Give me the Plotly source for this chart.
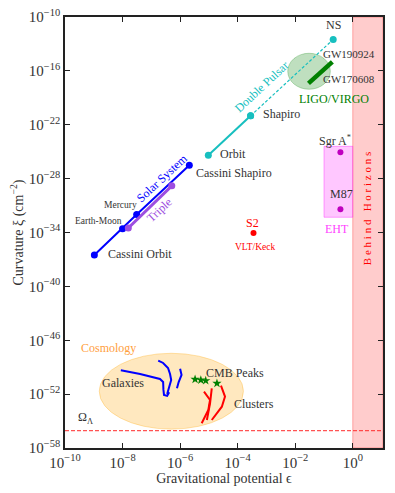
import plotly.graph_objects as go

# values are log10(epsilon), log10(curvature)
solar_eps = [-8.98, -8.0, -7.51, -5.68]
solar_xi = [-36.5, -33.57, -32.0, -26.5]

triple_eps = [-7.80, -6.29]
triple_xi = [-33.5, -28.8]

pulsar_eps = [-5.02, -3.55, -0.68]   # Orbit, Shapiro, NS
pulsar_xi = [-25.4, -21.0, -12.5]

gw_eps = [-1.54, -0.71]
gw_xi = [-17.4, -15.0]

eht_eps = [-0.43, -0.43]   # Sgr A*, M87
eht_xi = [-25.07, -31.4]

s2_eps = [-3.45]
s2_xi = [-34.05]

cmb_eps = [-5.48, -5.28, -5.11, -4.72]
cmb_xi = [-50.35, -50.43, -50.5, -50.8]

galaxy_eps = [
    [-8.06, -7.39, -6.70, -6.59, -6.58, -6.56, -6.45, -6.38],
    [-6.76, -6.59, -6.42, -6.35, -6.31, -6.38, -6.45],
    [-6.00, -5.95, -6.05, -6.11],
]
galaxy_xi = [
    [-49.34, -49.76, -50.31, -50.65, -51.5, -52.09, -52.2, -51.8],
    [-48.27, -48.53, -49.09, -49.76, -50.42, -51.31, -51.98],
    [-49.17, -49.87, -50.65, -51.35],
]

cluster_eps = [
    [-5.17, -4.96, -5.02, -5.25],
    [-4.90, -4.96, -5.07],
    [-4.58, -4.44, -4.55, -4.90],
]
cluster_xi = [
    [-51.73, -52.65, -53.76, -55.24],
    [-51.35, -53.02, -54.88],
    [-51.06, -52.28, -53.40, -54.88],
]

omega_lambda = -56.07

x_ticks = [-10, -8, -6, -4, -2, 0]
y_ticks = [-58, -52, -46, -40, -34, -28, -22, -16, -10]

FONT = "Liberation Serif"
BLUE = "#0000ff"
CYAN = "#17bfbf"
PURPLE = "#9d4ee0"
GREEN = "#008000"
MAG = "#bf00bf"
RED = "#ff0000"


def p(v):
    return [10 ** a for a in v]


fig = go.Figure()


def line(xs, ys, color, width, dash="solid", marker=True, msize=7):
    fig.add_trace(go.Scatter(
        x=p(xs), y=p(ys), mode="lines+markers" if marker else "lines",
        line=dict(color=color, width=width, dash=dash),
        marker=dict(color=color, size=msize), showlegend=False,
    ))


line(solar_eps, solar_xi, BLUE, 2)
line(triple_eps, triple_xi, PURPLE, 3)
line(pulsar_eps[:2], pulsar_xi[:2], CYAN, 2)
line(pulsar_eps[1:], pulsar_xi[1:], CYAN, 1.2, dash="3px,2px")
line(gw_eps, gw_xi, GREEN, 4.5, marker=False)
fig.add_trace(go.Scatter(x=p(eht_eps), y=p(eht_xi), mode="markers",
                         marker=dict(color=MAG, size=6), showlegend=False))
fig.add_trace(go.Scatter(x=p(s2_eps), y=p(s2_xi), mode="markers",
                         marker=dict(color=RED, size=6), showlegend=False))
fig.add_trace(go.Scatter(x=p(cmb_eps), y=p(cmb_xi), mode="markers",
                         marker=dict(color=GREEN, size=7, symbol="star"),
                         showlegend=False))
for xs, ys in zip(galaxy_eps, galaxy_xi):
    line(xs, ys, BLUE, 2, marker=False)
for xs, ys in zip(cluster_eps, cluster_xi):
    line(xs, ys, RED, 2, marker=False)

# regions
fig.add_shape(type="rect", xref="x", yref="paper", x0=1, x1=10 ** 1.05,
              y0=0, y1=1, fillcolor="rgba(255,0,0,0.2)",
              line=dict(color="rgba(255,0,0,0.3)", width=1), layer="below")
fig.add_shape(type="rect", x0=0.1, x1=1, y0=10 ** -32.3, y1=10 ** -24.4,
              fillcolor="rgba(255,0,255,0.22)",
              line=dict(color="rgba(255,0,255,0.35)", width=1), layer="below")
fig.add_shape(type="circle", x0=10 ** -2.26, x1=10 ** -0.78,
              y0=10 ** -18.05, y1=10 ** -14.04,
              fillcolor="rgba(0,128,0,0.25)",
              line=dict(color="rgba(0,128,0,0.25)", width=1), layer="below")
fig.add_shape(type="circle", x0=10 ** -8.81, x1=10 ** -3.80,
              y0=10 ** -55.9, y1=10 ** -47.45,
              fillcolor="rgba(255,165,0,0.25)",
              line=dict(color="rgba(255,165,0,0.3)", width=1), layer="below")
fig.add_shape(type="line", xref="paper", x0=0, x1=1,
              y0=10 ** omega_lambda, y1=10 ** omega_lambda,
              line=dict(color="rgba(255,40,40,0.8)", width=1.2, dash="4px,2px"))

DARK = "#333333"
labels = [
    # text, x, y, color, size, anchor, angle
    ("NS", -0.68, -10.89, DARK, 12, "center", 0),
    ("GW190924", -1.1, -14.15, DARK, 11, "left", 0),
    ("GW170608", -1.1, -16.90, DARK, 11, "left", 0),
    ("LIGO/VIRGO", -0.67, -19.13, GREEN, 12, "center", 0),
    ("Double Pulsar", -3.17, -17.85, CYAN, 12, "center", -43),
    ("Shapiro", -3.18, -20.84, DARK, 12, "left", 0),
    ("Orbit", -4.67, -25.26, DARK, 12, "left", 0),
    ("Cassini Shapiro", -5.51, -27.41, DARK, 12, "left", 0),
    ("Solar System", -6.62, -27.95, BLUE, 12, "center", -43),
    ("Triple", -6.72, -31.5, PURPLE, 12, "center", -43),
    ("Mercury", -8.06, -30.94, DARK, 9.5, "center", 0),
    ("Earth-Moon", -8.82, -32.68, DARK, 9.5, "center", 0),
    ("Cassini Orbit", -8.57, -36.39, DARK, 12, "left", 0),
    ("S2", -3.47, -32.91, RED, 12, "center", 0),
    ("VLT/Keck", -3.37, -35.65, RED, 9.5, "center", 0),
    ("Sgr A<sup>*</sup>", -0.62, -23.70, DARK, 12, "center", 0),
    ("M87", -0.40, -29.71, DARK, 12, "center", 0),
    ("EHT", -0.55, -33.61, "#ff44ff", 12, "center", 0),
    ("B e h i n d   H o r i z o n s", 0.50, -31.38, RED, 11, "center", -90),
    ("Cosmology", -8.50, -46.86, "#ffa040", 12, "center", 0),
    ("Galaxies", -7.98, -50.79, DARK, 12, "center", 0),
    ("CMB Peaks", -4.09, -49.68, DARK, 12, "center", 0),
    ("Clusters", -4.20, -53.10, DARK, 12, "left", 0),
    ("Ω<sub>Λ</sub>", -9.30, -54.65, DARK, 12, "center", 0),
]
for text, x, y, color, size, anchor, angle in labels:
    fig.add_annotation(x=x, y=y, text=text, showarrow=False, xanchor=anchor,
                       yanchor="middle", textangle=angle,
                       font=dict(family=FONT, size=size, color=color))

fig.update_xaxes(
    type="log", range=[-10, 1.05], automargin=False,
    ticklabeloverflow="allow",
    tickvals=[10 ** t for t in x_ticks],
    ticktext=[f"10<sup>{t if t >= 0 else '−' + str(-t)}</sup>" for t in x_ticks],
    ticks="inside", ticklen=5, tickwidth=1.2, tickcolor="#222",
    showline=True, linecolor="#222", linewidth=1.5, mirror="ticks",
    showgrid=False, zeroline=False,
    title=dict(text="Gravitational potential ϵ", standoff=2,
               font=dict(family=FONT, size=14, color=DARK)),
    tickfont=dict(family=FONT, size=15, color=DARK),
)
fig.update_yaxes(
    type="log", range=[-58, -10], automargin=False,
    ticklabeloverflow="allow",
    tickvals=[10 ** t for t in y_ticks],
    ticktext=[f"10<sup>−{-t}</sup>" for t in y_ticks],
    ticks="inside", ticklen=5, tickwidth=1.2, tickcolor="#222",
    showline=True, linecolor="#222", linewidth=1.5, mirror="ticks",
    showgrid=False, zeroline=False,
    title=dict(text="Curvature ξ (cm<sup>−2</sup>)", standoff=4,
               font=dict(family=FONT, size=14, color=DARK)),
    tickfont=dict(family=FONT, size=15, color=DARK),
)
# page body has an 8px margin, so the figure is a bit smaller than the window
fig.update_layout(
    width=387, height=485,
    margin=dict(l=57, r=12, t=9, b=45),
    plot_bgcolor="white", paper_bgcolor="white",
    showlegend=False,
)
fig.write_html("out.html")
